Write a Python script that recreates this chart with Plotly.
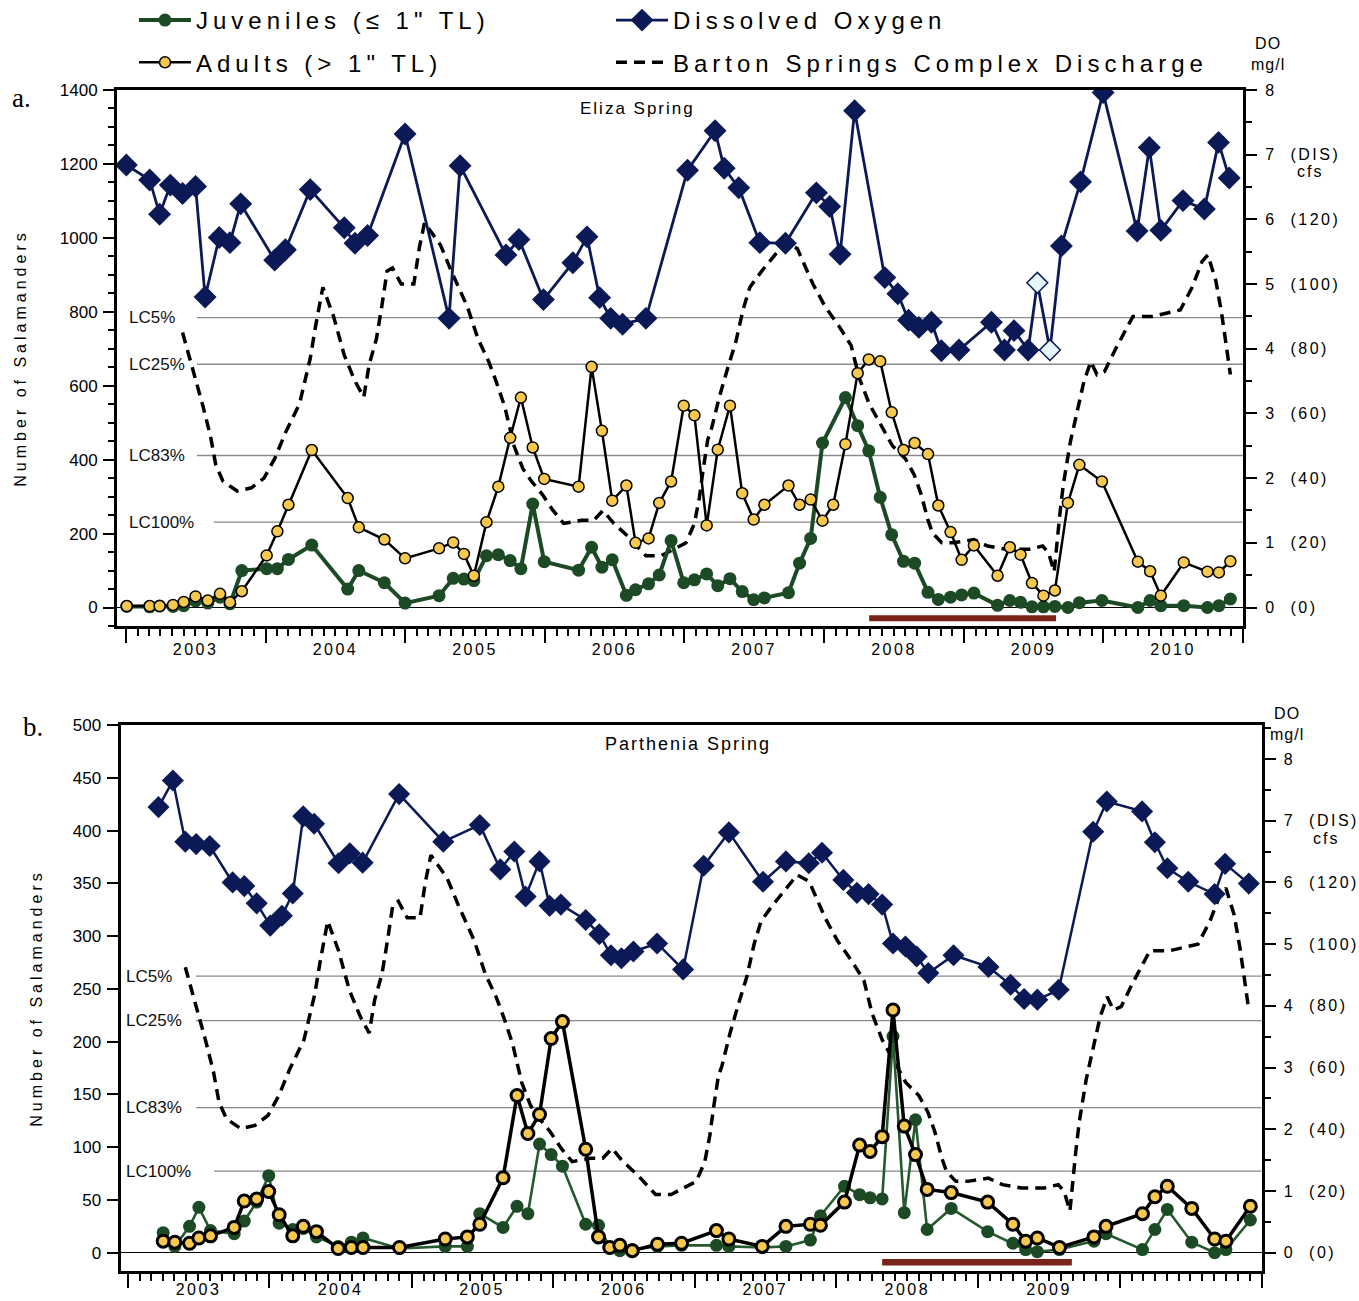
import plotly.graph_objects as go

# ===================== DATA =====================
name_juv = 'Juveniles (≤ 1" TL)'
name_adult = 'Adults (> 1" TL)'
name_do = 'Dissolved Oxygen'
name_dis = 'Barton Springs Complex Discharge'
title_a = 'Eliza Spring'
title_b = 'Parthenia Spring'
panel_tags = ['a.', 'b.']
y_title = 'Number of Salamanders'

years_a = ['2003', '2004', '2005', '2006', '2007', '2008', '2009', '2010']
years_b = ['2003', '2004', '2005', '2006', '2007', '2008', '2009']

lc_labels = ['LC5%', 'LC25%', 'LC83%', 'LC100%']
lc_do = [4.48, 3.76, 2.35, 1.32]

do_ticks = [0, 1, 2, 3, 4, 5, 6, 7, 8]
cfs_ticks = ['(0)', '(20)', '(40)', '(60)', '(80)', '(100)', '(120)', '(DIS)', '']

drought_dates = ['2008-04-28', '2009-08-30']

# Barton Springs Complex discharge (cfs)
dis_dates = ["2003-05-29", "2003-06-24", "2003-07-22", "2003-08-10", "2003-08-24", "2003-09-12", "2003-10-19",
             "2003-11-25", "2003-12-28", "2004-01-25", "2004-02-22", "2004-03-30", "2004-04-27", "2004-05-11",
             "2004-05-30", "2004-06-27", "2004-07-25", "2004-08-22", "2004-09-14", "2004-09-28", "2004-10-17",
             "2004-10-31", "2004-11-14", "2004-11-28", "2004-12-21", "2005-01-23", "2005-02-06", "2005-02-20",
             "2005-04-03", "2005-05-01", "2005-06-12", "2005-07-10", "2005-08-07", "2005-08-26", "2005-09-18",
             "2005-10-12", "2005-11-04", "2005-11-27", "2005-12-25", "2006-01-22", "2006-02-19", "2006-04-07",
             "2006-05-09", "2006-06-02", "2006-06-30", "2006-08-06", "2006-09-22", "2006-11-01", "2006-12-06",
             "2007-01-05", "2007-01-27", "2007-02-09", "2007-02-18", "2007-03-03", "2007-03-12", "2007-04-02",
             "2007-04-24", "2007-05-15", "2007-06-03", "2007-06-21", "2007-07-22", "2007-08-27", "2007-09-22",
             "2007-10-23", "2007-12-03", "2008-01-04", "2008-02-09", "2008-03-12", "2008-04-02", "2008-04-28",
             "2008-05-25", "2008-06-28", "2008-08-01", "2008-08-24", "2008-09-11", "2008-09-29", "2008-10-11",
             "2008-11-04", "2008-12-04", "2009-01-27", "2009-03-04", "2009-04-21", "2009-06-20", "2009-07-26",
             "2009-08-10", "2009-08-25", "2009-09-09", "2009-09-18", "2009-10-06", "2009-10-24", "2009-11-11",
             "2009-11-29", "2009-12-15", "2010-01-04", "2010-02-02", "2010-03-19", "2010-05-09", "2010-07-21",
             "2010-08-21", "2010-09-16", "2010-10-01", "2010-10-22", "2010-11-06", "2010-11-17", "2010-11-29"]
dis_cfs = [85, 74, 62, 53, 44, 39, 36, 37, 40, 46,
           54, 63, 77, 87, 99, 90, 78, 70, 65, 75,
           83, 93, 104, 105, 100, 100, 111, 119, 112, 104,
           93, 83, 76, 70, 62, 50, 43, 39, 35, 30,
           26, 27, 27, 30, 26, 22, 16, 16, 18, 20,
           26, 34, 42, 52, 55, 65, 74, 82, 92, 99,
           104, 109, 113, 111, 100, 93, 87, 81, 71, 63,
           57, 50, 46, 41, 35, 27, 23, 20, 20, 21,
           19, 18, 18, 19, 17, 11, 29, 38, 51, 60,
           70, 76, 72, 73, 80, 90, 90, 92, 99, 107,
           109, 101, 91, 82, 72]

# Eliza Spring dissolved oxygen (mg/l)
eliza_do_dates = ["2003-01-02", "2003-03-04", "2003-03-30", "2003-04-27", "2003-05-29", "2003-07-02", "2003-07-27",
                  "2003-09-02", "2003-09-30", "2003-10-28", "2004-01-25", "2004-02-22", "2004-04-27", "2004-07-25",
                  "2004-08-22", "2004-09-24", "2004-12-31", "2005-04-25", "2005-05-24", "2005-09-21", "2005-10-25",
                  "2005-12-28", "2006-03-15", "2006-04-21", "2006-05-24", "2006-06-22", "2006-07-23", "2006-09-22",
                  "2007-01-09", "2007-03-22", "2007-04-15", "2007-05-23", "2007-07-17", "2007-09-22", "2007-12-12",
                  "2008-01-16", "2008-02-12", "2008-03-21", "2008-06-08", "2008-07-12", "2008-08-09", "2008-09-05",
                  "2008-10-08", "2008-11-03", "2008-12-19", "2009-03-14", "2009-04-17", "2009-05-12", "2009-06-18",
                  "2009-07-12", "2009-08-14", "2009-09-13", "2009-11-02", "2009-12-31", "2010-03-30", "2010-05-01",
                  "2010-05-31", "2010-07-28", "2010-09-22", "2010-10-29", "2010-11-26"]
eliza_do = [6.84, 6.61, 6.08, 6.53, 6.40, 6.51, 4.80, 5.72, 5.64, 6.24,
            5.37, 5.53, 6.46, 5.87, 5.63, 5.75, 7.32, 4.47, 6.83, 5.45,
            5.69, 4.76, 5.33, 5.73, 4.79, 4.47, 4.38, 4.47, 6.76, 7.37,
            6.79, 6.49, 5.64, 5.63, 6.41, 6.20, 5.46, 7.68, 5.10, 4.85,
            4.44, 4.33, 4.41, 3.97, 3.98, 4.41, 3.98, 4.28, 3.98, 5.02,
            3.98, 5.59, 6.58, 7.96, 5.82, 7.11, 5.83, 6.29, 6.16, 7.19, 6.64]
eliza_do_open = ["2009-07-12", "2009-08-14"]   # drawn as open diamonds

# Eliza Spring salamander counts
eliza_dates = ["2003-01-03", "2003-03-04", "2003-03-30", "2003-05-04", "2003-06-01", "2003-07-02", "2003-08-03",
               "2003-09-04", "2003-09-30", "2003-10-31", "2004-01-04", "2004-02-01", "2004-03-01", "2004-05-01",
               "2004-08-03", "2004-09-01", "2004-11-07", "2004-12-31", "2005-03-30", "2005-05-06", "2005-06-03",
               "2005-06-29", "2005-08-01", "2005-09-01", "2005-10-02", "2005-10-30", "2005-11-30", "2005-12-30",
               "2006-03-30", "2006-05-03", "2006-05-30", "2006-06-26", "2006-08-02", "2006-08-26", "2006-09-29",
               "2006-10-27", "2006-11-27", "2006-12-30", "2007-01-27", "2007-02-28", "2007-03-29", "2007-04-30",
               "2007-06-01", "2007-07-01", "2007-07-29", "2007-09-30", "2007-10-29", "2007-11-27", "2007-12-28",
               "2008-01-25", "2008-02-26", "2008-03-29", "2008-04-27", "2008-05-27", "2008-06-26", "2008-07-27",
               "2008-08-25", "2008-09-29", "2008-10-26", "2008-11-27", "2008-12-26", "2009-01-27", "2009-03-30",
               "2009-05-01", "2009-05-29", "2009-06-28", "2009-07-28", "2009-08-27", "2009-09-30", "2009-10-30",
               "2009-12-28", "2010-04-01", "2010-05-03", "2010-05-31", "2010-07-30", "2010-09-30", "2010-10-30",
               "2010-11-29"]
eliza_adult = [4, 4, 4, 7, 15, 30, 19, 37, 14, 44,
               141, 206, 278, 426, 296, 217, 184, 133,
               160, 176, 145, 86, 231, 327, 459, 568, 433, 348,
               327, 651, 478, 289, 330, 175, 187, 283, 341, 546,
               520, 222, 427, 546, 309, 238, 278, 330, 278, 292, 235,
               278, 442, 634, 671, 666, 528, 426, 445, 415, 276, 204, 129,
               168, 86, 163, 143, 66, 32, 46, 283, 386, 341,
               124, 98, 32, 122, 97, 95, 125]
eliza_juv = [3, 2, 4, 3, 5, 18, 12, 28, 10, 100,
             105, 105, 130, 169, 50, 100, 67, 12,
             32, 79, 77, 73, 140, 143, 127, 105, 280, 124,
             101, 163, 109, 129, 33, 48, 64, 88, 181, 67,
             75, 91, 59, 78, 43, 21, 26, 40, 120, 187, 445,
             None, 568, 492, 424, 298, 197, 125, 120, 41, 22, 28, 34,
             39, 6, 19, 14, 2, 2, 3, 0, 13, 19,
             0, 19, 5, 5, 0, 5, 23]

# Parthenia Spring dissolved oxygen (mg/l)
parth_do_dates = ["2003-03-21", "2003-04-27", "2003-05-29", "2003-06-26", "2003-07-31", "2003-09-28", "2003-10-28",
                  "2003-11-29", "2004-01-03", "2004-02-02", "2004-03-01", "2004-03-28", "2004-04-25", "2004-06-27",
                  "2004-07-26", "2004-08-28", "2004-11-30", "2005-03-24", "2005-06-26", "2005-08-18", "2005-09-23",
                  "2005-10-22", "2005-11-27", "2005-12-23", "2006-01-21", "2006-03-26", "2006-04-30", "2006-05-30",
                  "2006-06-26", "2006-07-27", "2006-09-26", "2006-12-02", "2007-01-24", "2007-03-30", "2007-06-26",
                  "2007-08-24", "2007-10-22", "2007-11-25", "2008-01-19", "2008-02-23", "2008-03-24", "2008-04-28",
                  "2008-05-26", "2008-06-27", "2008-07-26", "2008-08-25", "2008-10-29", "2009-01-27", "2009-03-25",
                  "2009-04-29", "2009-06-02", "2009-07-27", "2009-10-24", "2009-11-28", "2010-02-27", "2010-04-01",
                  "2010-05-03", "2010-06-26", "2010-09-02", "2010-09-29", "2010-11-29"]
parth_do = [7.22, 7.65, 6.66, 6.62, 6.59, 6.00, 5.94, 5.66,
            5.30, 5.46, 5.82, 7.07, 6.95, 6.31, 6.47, 6.32, 7.43,
            6.66, 6.93, 6.21, 6.50, 5.77, 6.34, 5.62,
            5.64, 5.39, 5.16, 4.82, 4.77, 4.88, 5.01, 4.59,
            6.27, 6.81, 6.01, 6.34, 6.31, 6.48,
            6.04, 5.83, 5.81, 5.64, 5.01, 4.96, 4.80, 4.53, 4.82,
            4.63, 4.34, 4.11, 4.10, 4.26, 6.82, 7.31,
            7.15, 6.65, 6.23, 6.01, 5.81, 6.30, 5.98]

# Parthenia Spring salamander counts
parth_dates = ["2003-04-02", "2003-05-02", "2003-06-09", "2003-07-03", "2003-08-02", "2003-10-02", "2003-10-28",
               "2003-11-29", "2003-12-30", "2004-01-26", "2004-03-01", "2004-03-28", "2004-05-01", "2004-06-26",
               "2004-07-30", "2004-08-29", "2004-12-01", "2005-03-29", "2005-05-25", "2005-06-26", "2005-08-25",
               "2005-09-30", "2005-10-28", "2005-11-27", "2005-12-27", "2006-01-25", "2006-03-26", "2006-04-28",
               "2006-05-27", "2006-06-22", "2006-07-24", "2006-09-27", "2006-11-28", "2007-02-26", "2007-03-30",
               "2007-06-24", "2007-08-24", "2007-10-26", "2007-11-21", "2008-01-22", "2008-03-01", "2008-03-28",
               "2008-04-28", "2008-05-26", "2008-06-24", "2008-07-23", "2008-08-22", "2008-10-23", "2009-01-25",
               "2009-03-31", "2009-05-03", "2009-06-02", "2009-07-29", "2009-10-26", "2009-11-26", "2010-02-28",
               "2010-04-01", "2010-05-03", "2010-07-05", "2010-09-02", "2010-10-01", "2010-12-03"]
parth_adult = [11, 10, 9, 14, 16, 24, 49, 51, 58,
               36, 16, 25, 20, 4, 5, 5, 5,
               13, 15, 27, 71, 149, 113, 131, 203,
               219, 98, 15, 5, 7, 2, 8, 9,
               21, 13, 6, 25, 27, 26,
               48, 102, 96, 110, 230, 120, 93, 60, 57,
               48, 27, 11, 14, 5, 15, 25,
               37, 53, 63, 42, 13, 11, 44]
parth_juv = [19, 6, 25, 43, 21, 18, 30, 48, 73,
             28, 22, 23, 15, 6, 10, 14, 4,
             6, 6, 37, 24, 44, 37, 103, 93,
             82, 27, 26, 5, 2, 3, 6, 7,
             7, 6, 5, 6, 12, 35,
             63, 55, 52, 51, 205, 38, 126, 22, 42,
             20, 9, 3, 1, 3, 11, 18,
             3, 22, 41, 10, 0, 3, 31]

# ===================== STYLE / LAYOUT =====================
W, H = 1359, 1301
FONT = 'Liberation Sans, Arial, Helvetica, sans-serif'
SERIF = 'Liberation Serif, Times New Roman, serif'
NAVY = '#0b1a56'
GREEN_A = '#1c4a25'
GREEN_B = '#255a2f'
YELLOW = '#f6c94e'
RED = '#7a2419'
GREY = '#8a8a8a'


def fx(p):
    return p / W


def fy(p):
    return 1 - p / H


def ls(s, px):
    return f'<span style="letter-spacing:{px}px">{s}</span>'


# panel boxes in pixels
dom_xa = [fx(117), fx(1243)]
dom_ya = [fy(626), fy(90)]
dom_xb = [fx(120.5), fx(1261.6)]
dom_yb = [fy(1271), fy(725)]
range_xa = ['2002-12-08 12:00', '2011-01-01']
range_xb = ['2002-12-13', '2011-01-01']

fig = go.Figure()

# ---------- panel a ----------
fig.add_trace(go.Scatter(x=dis_dates, y=dis_cfs, xaxis='x', yaxis='y', mode='lines', name=ls(name_dis, 5),
                         line=dict(color='black', width=3.5, dash='11px,7px'),
                         legend='legend2', legendgroup='dis', legendrank=2))
do_fill_a = ['#e6f6fb' if d in eliza_do_open else NAVY for d in eliza_do_dates]
fig.add_trace(go.Scatter(x=eliza_do_dates, y=eliza_do, xaxis='x', yaxis='y2', mode='lines+markers',
                         name=ls(name_do, 5), line=dict(color=NAVY, width=2.8),
                         marker=dict(symbol='diamond', size=16, color=do_fill_a, line=dict(color=NAVY, width=1.5)),
                         legend='legend2', legendgroup='do', legendrank=1))
fig.add_trace(go.Scatter(x=eliza_dates, y=eliza_juv, xaxis='x', yaxis='y3', mode='lines+markers',
                         name=ls(name_juv, 5), connectgaps=True,
                         line=dict(color=GREEN_A, width=4), marker=dict(size=13, color=GREEN_A),
                         legend='legend', legendgroup='juv', legendrank=1))
fig.add_trace(go.Scatter(x=eliza_dates, y=eliza_adult, xaxis='x', yaxis='y3', mode='lines+markers',
                         name=ls(name_adult, 5),
                         line=dict(color='black', width=2.5),
                         marker=dict(size=11, color=YELLOW, line=dict(color='black', width=1.5)),
                         legend='legend', legendgroup='adult', legendrank=2))
fig.add_trace(go.Scatter(x=drought_dates, y=[-29, -29], xaxis='x3', yaxis='y7', mode='lines',
                         line=dict(color=RED, width=6), showlegend=False))

# ---------- panel b ----------
fig.add_trace(go.Scatter(x=dis_dates, y=dis_cfs, xaxis='x2', yaxis='y4', mode='lines', showlegend=False,
                         line=dict(color='black', width=3.5, dash='11px,7px')))
fig.add_trace(go.Scatter(x=parth_do_dates, y=parth_do, xaxis='x2', yaxis='y5', mode='lines+markers',
                         showlegend=False, line=dict(color=NAVY, width=2.5),
                         marker=dict(symbol='diamond', size=17, color=NAVY)))
fig.add_trace(go.Scatter(x=parth_dates, y=parth_juv, xaxis='x2', yaxis='y6', mode='lines+markers',
                         showlegend=False, line=dict(color=GREEN_B, width=2.6),
                         marker=dict(size=13, color=GREEN_A)))
fig.add_trace(go.Scatter(x=parth_dates, y=parth_adult, xaxis='x2', yaxis='y6', mode='lines+markers',
                         showlegend=False, line=dict(color='black', width=3.5),
                         marker=dict(size=12, color=YELLOW, line=dict(color='black', width=3))))
fig.add_trace(go.Scatter(x=drought_dates, y=[-9, -9], xaxis='x4', yaxis='y8', mode='lines',
                         line=dict(color=RED, width=6.5), showlegend=False))


def date_axis(domain, anchor, rng):
    return dict(domain=domain, anchor=anchor, type='date', range=rng,
                showline=True, linecolor='black', linewidth=3, mirror=True,
                ticks='outside', tickmode='linear', tick0='2003-01-01', dtick='M12',
                ticklen=14, tickwidth=2, tickcolor='black', showticklabels=False,
                minor=dict(ticks='outside', tickmode='linear', tick0='2003-01-01', dtick='M1',
                           ticklen=7, tickwidth=2, tickcolor='black', showgrid=False),
                showgrid=False, zeroline=False)


def label_axis(domain, anchor, rng, years, tl):
    return dict(domain=domain, anchor=anchor, type='date', range=rng,
                tickmode='array', tickvals=[f'{y}-07-02' for y in years],
                ticktext=[ls(y, 2.5) for y in years],
                ticks='outside', ticklen=tl, tickcolor='rgba(0,0,0,0)',
                showline=False, showgrid=False, zeroline=False,
                tickfont=dict(family=FONT, size=16, color='black'))


def do_axis(over, anchor, rng):
    return dict(overlaying=over, anchor=anchor, side='right', range=rng,
                tickmode='array', tickvals=do_ticks,
                ticktext=[ls(f'{d}\u00a0\u00a0{c}' if c else f'{d}', 2.5) for d, c in zip(do_ticks, cfs_ticks)],
                ticks='outside', ticklen=11, tickwidth=2, tickcolor='black', ticklabelstandoff=5,
                minor=dict(ticks='outside', tickmode='linear', tick0=0, dtick=0.5, ticklen=6,
                           tickwidth=2, tickcolor='black', showgrid=False),
                showline=True, linecolor='black', linewidth=3, showgrid=False, zeroline=False,
                tickfont=dict(family=FONT, size=16, color='black'))


def sal_axis(over, anchor, rng, dt, minor_dt, standoff):
    ax = dict(overlaying=over, anchor=anchor, side='left', range=rng,
              tickmode='linear', tick0=0, dtick=dt,
              ticks='outside', ticklen=11, tickwidth=2, tickcolor='black', ticklabelstandoff=2,
              showline=True, linecolor='black', linewidth=3, showgrid=False,
              zeroline=True, zerolinecolor='black', zerolinewidth=1.3,
              tickfont=dict(family=FONT, size=17, color='black'),
              title=dict(text=ls(y_title, 4), font=dict(family=FONT, size=16, color='black'),
                         standoff=standoff))
    if minor_dt:
        ax['minor'] = dict(ticks='outside', tickmode='linear', tick0=0, dtick=minor_dt, ticklen=6,
                           tickwidth=2, tickcolor='black', showgrid=False)
    return ax


legend_common = dict(yanchor='top', xanchor='left', orientation='v', traceorder='grouped',
                     tracegroupgap=8, itemwidth=52, bgcolor='rgba(0,0,0,0)',
                     font=dict(family=FONT, size=24, color='black'))

annotations = [
    dict(text=panel_tags[0], x=fx(21), y=fy(98), font=dict(family=SERIF, size=27, color='black')),
    dict(text=panel_tags[1], x=fx(33), y=fy(727), font=dict(family=SERIF, size=27, color='black')),
    dict(text=ls(title_a, 2), x=fx(637), y=fy(108), font=dict(family=FONT, size=17, color='black')),
    dict(text=ls(title_b, 2), x=fx(688), y=fy(744), font=dict(family=FONT, size=18, color='black')),
    dict(text=ls('DO', 1) + '<br>' + ls('mg/l', 1), x=fx(1268), y=fy(54),
         font=dict(family=FONT, size=16, color='black')),
    dict(text=ls('DO', 1) + '<br>' + ls('mg/l', 1), x=fx(1287), y=fy(724),
         font=dict(family=FONT, size=16, color='black')),
    dict(text=ls('cfs', 2), x=fx(1310), y=fy(172), font=dict(family=FONT, size=16, color='black')),
    dict(text=ls('cfs', 2), x=fx(1326), y=fy(838), font=dict(family=FONT, size=16, color='black')),
]
for a in annotations:
    a.update(xref='paper', yref='paper', showarrow=False, xanchor='center', yanchor='middle')

shapes = []
lc_start_a = [0.071, 0.071, 0.071, 0.086]
lc_start_b = [0.066, 0.066, 0.066, 0.082]
for lab, val, sa, sb in zip(lc_labels, lc_do, lc_start_a, lc_start_b):
    shapes.append(dict(type='line', xref='x domain', yref='y2', x0=sa, x1=1, y0=val, y1=val,
                       line=dict(color=GREY, width=1.3), layer='below'))
    shapes.append(dict(type='line', xref='x2 domain', yref='y5', x0=sb, x1=1, y0=val, y1=val,
                       line=dict(color=GREY, width=1.3), layer='below'))
    annotations.append(dict(text=lab, xref='x domain', yref='y2', x=0.009, y=val, xanchor='left',
                            yanchor='middle', showarrow=False, font=dict(family=FONT, size=17, color='#111')))
    annotations.append(dict(text=lab, xref='x2 domain', yref='y5', x=0.003, y=val, xanchor='left',
                            yanchor='middle', showarrow=False, font=dict(family=FONT, size=17, color='#111')))

fig.update_layout(
    width=W, height=H, margin=dict(l=0, r=0, t=0, b=0, autoexpand=False),
    paper_bgcolor='white', plot_bgcolor='rgba(0,0,0,0)',
    hovermode=False,
    xaxis=date_axis(dom_xa, 'y', range_xa),
    xaxis2=date_axis(dom_xb, 'y4', range_xb),
    xaxis3=label_axis(dom_xa, 'y7', range_xa, years_a, 9),
    xaxis4=label_axis(dom_xb, 'y8', range_xb, years_b, 4),
    yaxis=dict(domain=dom_ya, anchor='x', range=[-5.72, 160], visible=False),
    yaxis2=do_axis('y', 'x', [-0.286, 8]),
    yaxis3=sal_axis('y', 'x', [-50, 1400], 200, 50, 30),
    yaxis4=dict(domain=dom_yb, anchor='x2', range=[-7.2, 158.5], visible=False),
    yaxis5=do_axis('y4', 'x2', [-0.297, 8.55]),
    yaxis6=sal_axis('y4', 'x2', [-17.3, 500], 50, None, 27),
    yaxis7=dict(domain=dom_ya, anchor='x3', range=[-50, 1400], visible=False),
    yaxis8=dict(domain=dom_yb, anchor='x4', range=[-17.3, 500], visible=False),
    legend=dict(x=fx(134), y=fy(-2), **legend_common),
    legend2=dict(x=fx(611), y=fy(-2), **legend_common),
    annotations=annotations,
    shapes=shapes,
)

fig.write_html('out.html')
